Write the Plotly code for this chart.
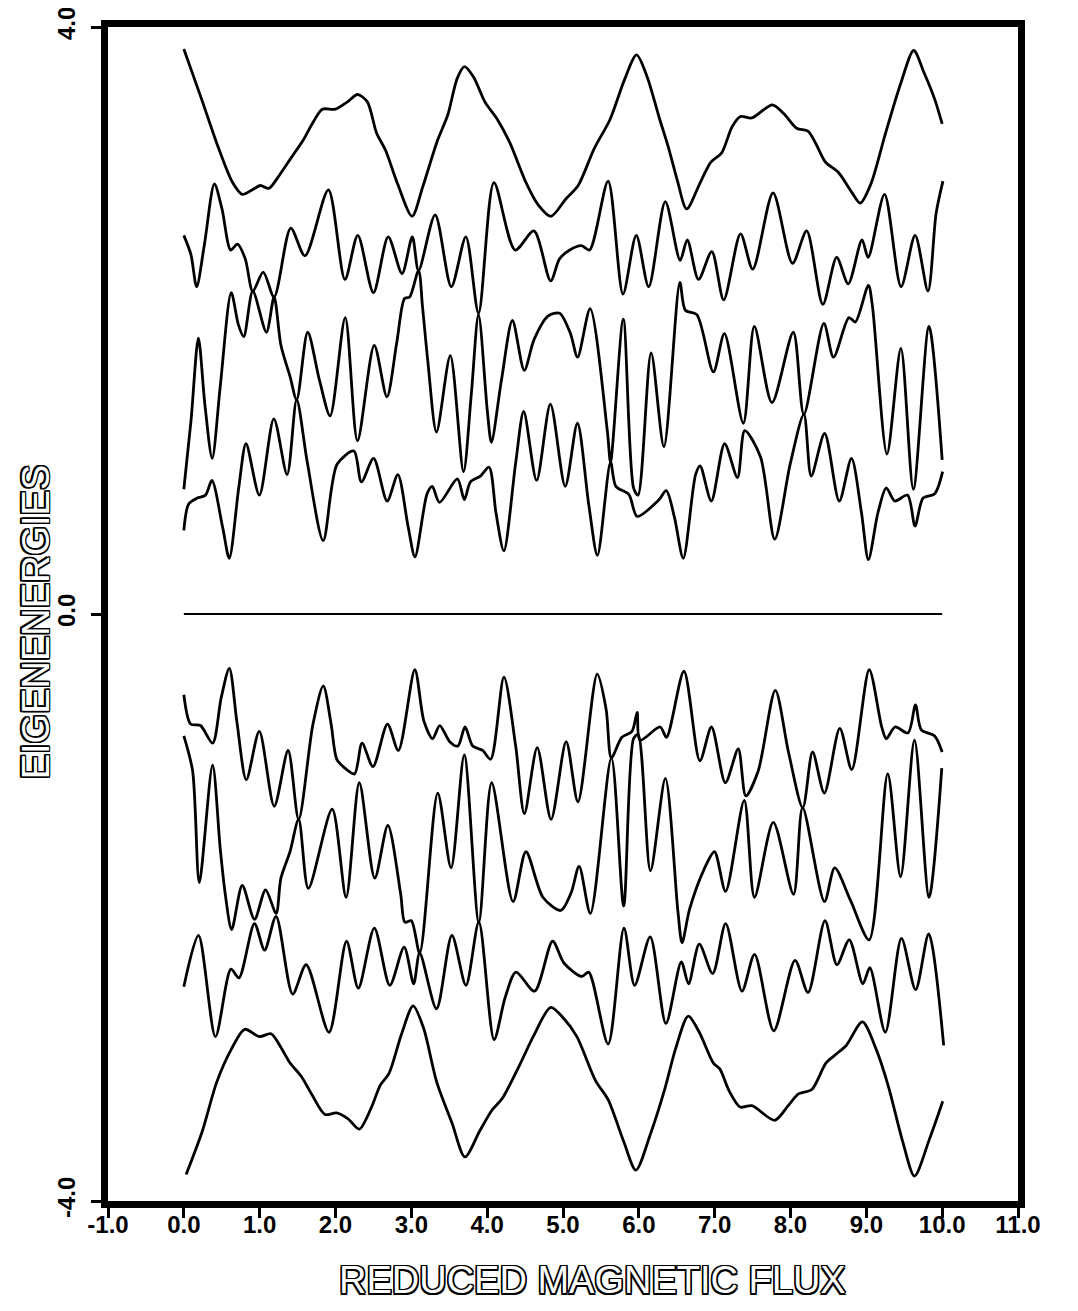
import plotly.graph_objects as go

# ---- axis ticks -------------------------------------------------------------
flux_ticks = list(range(-1, 12))
flux_tick_labels = [f"{v:.1f}" for v in flux_ticks]
energy_ticks = [-4.0, 0.0, 4.0]
energy_tick_labels = ["-4.0", "0.0", "4.0"]

# ---- eigenenergy bands: (reduced magnetic flux, eigenenergy) ---------------
band_p4 = [(0.0,3.85),(0.24,3.50),(0.44,3.20),(0.643,2.94),(0.77,2.86),(0.90,2.89),(1.01,2.92),(1.12,2.90),
           (1.26,2.99),(1.417,3.11),(1.575,3.23),(1.714,3.36),(1.827,3.44),(2.00,3.44),(2.158,3.49),(2.29,3.54),
           (2.42,3.49),(2.54,3.28),(2.66,3.16),(2.82,2.93),(3.01,2.71),(3.15,2.91),(3.34,3.22),(3.48,3.40),
           (3.605,3.65),(3.70,3.73),(3.82,3.66),(3.97,3.49),(4.135,3.37),(4.30,3.21),(4.503,2.95),(4.67,2.79),
           (4.84,2.71),(5.04,2.83),(5.2,2.92),(5.41,3.17),(5.62,3.37),(5.81,3.64),(5.97,3.81),(6.11,3.66),
           (6.27,3.38),(6.39,3.18),(6.51,2.95),(6.63,2.76),(6.81,2.94),(6.95,3.08),(7.09,3.14),(7.23,3.32),
           (7.34,3.39),(7.49,3.38),(7.76,3.47),(7.91,3.41),(8.08,3.31),(8.23,3.29),(8.33,3.21),(8.46,3.08),
           (8.63,3.01),(8.80,2.88),(8.92,2.80),(9.06,2.93),(9.25,3.27),(9.45,3.61),(9.625,3.84),(9.76,3.69),
           (9.90,3.51),(10.0,3.34)]

band_p3 = [(0.0,2.58),(0.093,2.45),(0.169,2.23),(0.272,2.52),(0.403,2.93),(0.503,2.76),(0.618,2.48),(0.708,2.52),
           (0.81,2.42),(0.909,2.20),(1.047,2.33),(1.19,2.16),(1.41,2.63),(1.597,2.44),(1.906,2.89),(2.124,2.28),
           (2.294,2.58),(2.5,2.19),(2.695,2.57),(2.877,2.32),(3.013,2.57),(3.095,2.34),(3.314,2.72),(3.527,2.23),
           (3.719,2.57),(3.886,2.05),(4.089,2.94),(4.369,2.48),(4.616,2.61),(4.837,2.27),(4.954,2.42),(5.089,2.48),
           (5.243,2.51),(5.35,2.48),(5.595,2.95),(5.791,2.18),(5.966,2.58),(6.13,2.23),(6.349,2.81),(6.545,2.41),
           (6.639,2.55),(6.787,2.28),(6.962,2.47),(7.119,2.14),(7.341,2.59),(7.502,2.35),(7.77,2.87),(8.026,2.39),
           (8.213,2.61),(8.426,2.11),(8.609,2.43),(8.761,2.25),(8.943,2.55),(9.024,2.43),(9.24,2.86),(9.458,2.23),
           (9.643,2.58),(9.813,2.20),(9.92,2.73),(10.01,2.95)]

band_p2 = [(0.0,0.85),(0.095,1.32),(0.192,1.88),(0.277,1.43),(0.374,1.06),(0.48,1.55),(0.625,2.19),(0.72,1.97),
           (0.79,1.89),(0.909,2.20),(1.089,1.92),(1.19,2.16),(1.281,1.83),(1.4,1.62),(1.488,1.46),(1.633,1.92),
           (1.79,1.59),(1.929,1.35),(2.128,2.02),(2.29,1.18),(2.511,1.83),(2.678,1.48),(2.808,1.85),(2.911,2.15),
           (2.978,2.16),(3.095,2.34),(3.148,2.09),(3.216,1.73),(3.332,1.24),(3.514,1.76),(3.688,0.97),(3.791,1.50),
           (3.886,2.04),(4.003,1.38),(4.056,1.17),(4.19,1.60),(4.333,2.00),(4.489,1.66),(4.618,1.87),(4.801,2.03),
           (4.956,2.05),(5.099,1.91),(5.192,1.75),(5.358,2.08),(5.586,1.24),(5.627,1.035),(5.795,2.01),(5.93,0.86),
           (5.99,0.81),(6.162,1.78),(6.331,1.14),(6.541,2.26),(6.613,2.07),(6.765,2.04),(6.983,1.65),(7.128,1.91),
           (7.378,1.30),(7.523,1.96),(7.755,1.44),(8.037,1.92),(8.176,1.36),(8.44,1.98),(8.567,1.75),(8.77,2.02),
           (8.855,1.99),(9.027,2.24),(9.08,2.10),(9.272,1.09),(9.456,1.81),(9.62,0.85),(9.826,1.96),(10.0,1.05)]

band_p1 = [(0.0,0.57),(0.064,0.75),(0.176,0.79),(0.286,0.81),(0.37,0.91),(0.512,0.59),(0.599,0.38),(0.724,0.86),
           (0.82,1.16),(0.996,0.81),(1.187,1.33),(1.362,0.95),(1.488,1.46),(1.629,1.03),(1.838,0.50),(2.021,1.02),
           (2.243,1.11),(2.341,0.90),(2.502,1.06),(2.681,0.77),(2.822,0.95),(2.956,0.60),(3.048,0.39),(3.208,0.82),
           (3.276,0.87),(3.371,0.76),(3.607,0.92),(3.699,0.78),(3.78,0.90),(3.912,0.94),(4.025,1.00),(4.116,0.69),
           (4.22,0.43),(4.376,1.03),(4.482,1.38),(4.652,0.91),(4.834,1.43),(5.029,0.87),(5.19,1.30),(5.341,0.74),
           (5.454,0.40),(5.627,1.035),(5.697,0.87),(5.868,0.815),(5.978,0.665),(6.259,0.775),(6.362,0.84),(6.469,0.66),
           (6.586,0.38),(6.748,0.95),(6.808,1.01),(6.956,0.77),(7.131,1.16),(7.301,0.93),(7.397,1.25),(7.605,1.07),
           (7.792,0.51),(7.995,1.02),(8.176,1.36),(8.273,0.94),(8.45,1.23),(8.643,0.77),(8.804,1.06),(8.936,0.69),
           (9.027,0.37),(9.153,0.69),(9.263,0.86),(9.376,0.77),(9.544,0.81),(9.642,0.60),(9.748,0.79),(9.902,0.82),
           (10.006,0.97)]

band_zero = [(0.0,0.0),(10.0,0.0)]

band_m1 = [(0.0,-0.55),(0.09,-0.75),(0.22,-0.76),(0.379,-0.88),(0.493,-0.57),(0.6,-0.37),(0.701,-0.74),(0.824,-1.13),
           (0.995,-0.80),(1.192,-1.31),(1.375,-0.93),(1.514,-1.40),(1.703,-0.75),(1.839,-0.49),(1.942,-0.75),(2.017,-0.99),
           (2.123,-1.05),(2.251,-1.09),(2.35,-0.88),(2.494,-1.04),(2.685,-0.75),(2.829,-0.93),(3.046,-0.38),(3.166,-0.73),
           (3.281,-0.85),(3.374,-0.76),(3.506,-0.87),(3.614,-0.90),(3.708,-0.77),(3.81,-0.90),(3.94,-0.93),(4.046,-0.99),
           (4.221,-0.43),(4.376,-0.90),(4.491,-1.36),(4.66,-0.91),(4.843,-1.40),(5.042,-0.87),(5.197,-1.28),(5.451,-0.41),
           (5.569,-0.65),(5.638,-0.98),(5.776,-0.84),(5.91,-0.80),(5.978,-0.67),(6.014,-0.86),(6.281,-0.77),(6.365,-0.84),
           (6.595,-0.39),(6.805,-1.00),(6.958,-0.77),(7.141,-1.15),(7.311,-0.92),(7.411,-1.24),(7.574,-1.07),(7.8,-0.52),
           (7.973,-0.94),(8.162,-1.32),(8.291,-0.94),(8.446,-1.22),(8.65,-0.78),(8.808,-1.06),(9.038,-0.38),(9.203,-0.77),
           (9.264,-0.85),(9.378,-0.77),(9.55,-0.81),(9.648,-0.62),(9.725,-0.79),(9.898,-0.83),(10.0,-0.94)]

band_m2 = [(0.0,-0.83),(0.116,-1.07),(0.204,-1.83),(0.379,-1.03),(0.48,-1.60),(0.549,-1.92),(0.631,-2.15),(0.77,-1.85),
           (0.932,-2.08),(1.078,-1.88),(1.217,-2.04),(1.28,-1.80),(1.40,-1.62),(1.514,-1.40),(1.642,-1.87),(1.956,-1.33),
           (2.14,-1.93),(2.314,-1.15),(2.518,-1.80),(2.69,-1.44),(2.86,-1.91),(2.915,-2.10),(3.0,-2.09),(3.11,-2.31),
           (3.348,-1.22),(3.524,-1.73),(3.698,-0.96),(3.89,-2.10),(4.059,-1.15),(4.341,-1.96),(4.511,-1.62),(4.735,-1.93),
           (4.97,-2.02),(5.107,-1.90),(5.213,-1.72),(5.361,-2.04),(5.638,-0.98),(5.8,-1.99),(5.93,-0.85),(5.99,-0.82),
           (6.153,-1.75),(6.35,-1.12),(6.516,-2.03),(6.57,-2.24),(6.67,-2.01),(6.86,-1.74),(6.997,-1.62),(7.144,-1.89),
           (7.39,-1.27),(7.525,-1.93),(7.773,-1.42),(8.04,-1.91),(8.16,-1.32),(8.448,-1.96),(8.583,-1.73),(8.79,-1.95),
           (9.037,-2.22),(9.282,-1.09),(9.452,-1.79),(9.635,-0.86),(9.827,-1.93),(9.995,-1.05)]

band_m3 = [(0.0,-2.54),(0.193,-2.19),(0.417,-2.88),(0.621,-2.42),(0.727,-2.48),(0.931,-2.11),(1.065,-2.29),(1.216,-2.06),
           (1.435,-2.59),(1.613,-2.39),(1.914,-2.85),(2.145,-2.23),(2.301,-2.55),(2.512,-2.14),(2.716,-2.53),(2.905,-2.27),
           (3.031,-2.52),(3.11,-2.31),(3.332,-2.69),(3.535,-2.19),(3.72,-2.53),(3.89,-2.10),(4.091,-2.90),(4.239,-2.61),
           (4.38,-2.44),(4.625,-2.57),(4.863,-2.23),(5.014,-2.38),(5.25,-2.47),(5.339,-2.44),(5.595,-2.93),(5.804,-2.14),
           (5.944,-2.53),(6.15,-2.20),(6.357,-2.79),(6.56,-2.37),(6.655,-2.52),(6.797,-2.25),(6.974,-2.45),(7.145,-2.11),
           (7.36,-2.57),(7.526,-2.32),(7.779,-2.84),(8.06,-2.36),(8.231,-2.58),(8.455,-2.09),(8.612,-2.39),(8.775,-2.22),
           (8.954,-2.52),(9.046,-2.41),(9.25,-2.85),(9.463,-2.21),(9.65,-2.56),(9.823,-2.18),(10.02,-2.94)]

band_m4 = [(0.03,-3.82),(0.24,-3.53),(0.434,-3.19),(0.622,-2.97),(0.804,-2.83),(0.996,-2.88),(1.15,-2.86),(1.277,-2.95),
           (1.401,-3.06),(1.548,-3.15),(1.694,-3.28),(1.861,-3.41),(2.014,-3.40),(2.166,-3.44),(2.314,-3.51),(2.475,-3.36),
           (2.591,-3.21),(2.706,-3.13),(2.872,-2.86),(3.024,-2.67),(3.16,-2.82),(3.335,-3.19),(3.537,-3.47),(3.707,-3.70),
           (3.905,-3.52),(4.065,-3.38),(4.201,-3.30),(4.431,-3.07),(4.617,-2.87),(4.838,-2.68),(5.016,-2.76),(5.183,-2.88),
           (5.429,-3.18),(5.595,-3.31),(5.797,-3.59),(5.961,-3.79),(6.149,-3.55),(6.341,-3.24),(6.486,-2.96),(6.652,-2.74),
           (6.797,-2.85),(6.983,-3.06),(7.068,-3.10),(7.191,-3.25),(7.337,-3.36),(7.49,-3.35),(7.791,-3.45),(7.97,-3.35),
           (8.105,-3.27),(8.281,-3.24),(8.467,-3.06),(8.6,-3.00),(8.735,-2.94),(8.948,-2.78),(9.125,-2.96),(9.286,-3.21),
           (9.482,-3.60),(9.635,-3.83),(9.831,-3.58),(10.008,-3.32)]

bands = [band_p4, band_p3, band_p2, band_p1, band_m1, band_m2, band_m3, band_m4]

# ---- figure -------------------------------------------------------------------
fig = go.Figure()
for pts in bands:
    fig.add_trace(go.Scatter(
        x=[p[0] for p in pts], y=[p[1] for p in pts], mode="lines",
        line=dict(color="black", width=2.8, shape="spline", smoothing=0.8),
        showlegend=False, hoverinfo="skip"))
fig.add_trace(go.Scatter(
    x=[p[0] for p in band_zero], y=[p[1] for p in band_zero], mode="lines",
    line=dict(color="black", width=2.2), showlegend=False, hoverinfo="skip"))

tick_font = dict(family="Liberation Sans, Arial, sans-serif", size=24, color="black", weight="bold")
d = 1.5
outline = ", ".join(f"{dx}px {dy}px 0 #000" for dx, dy in
                    [(d, 0), (-d, 0), (0, d), (0, -d), (d, d), (-d, -d), (d, -d), (-d, d)])
title_font = dict(family="Liberation Sans, Arial, sans-serif", size=38, color="white", shadow=outline)

# page body adds an 8 px offset; figure sized so everything lands inside the window
fig.update_layout(
    width=1062, height=1295,
    margin=dict(l=100, r=52, t=19, b=102),
    paper_bgcolor="white", plot_bgcolor="white",
    showlegend=False,
)
fig.update_xaxes(
    range=[-1, 11], tickvals=flux_ticks, ticktext=flux_tick_labels,
    ticks="outside", ticklen=10, tickwidth=2.5, tickcolor="black",
    ticklabelstandoff=-14, ticklabeloverflow="allow",
    showline=True, linewidth=7, linecolor="black", mirror=True,
    showgrid=False, zeroline=False, tickfont=tick_font, automargin=False,
)
fig.update_yaxes(
    range=[-4, 4], tickvals=energy_ticks, ticktext=energy_tick_labels, tickangle=-90,
    ticks="outside", ticklen=10, tickwidth=2.5, tickcolor="black",
    ticklabelstandoff=6, ticklabeloverflow="allow",
    showline=True, linewidth=7, linecolor="black", mirror=True,
    showgrid=False, zeroline=False, tickfont=tick_font, automargin=False,
)
fig.add_annotation(text="REDUCED MAGNETIC FLUX", xref="paper", yref="paper",
                   x=0.532, y=-0.067, xanchor="center", yanchor="middle",
                   showarrow=False, font=title_font)
fig.add_annotation(text="EIGENENERGIES", xref="paper", yref="paper",
                   x=-0.079, y=0.493, xanchor="center", yanchor="middle", textangle=-90,
                   showarrow=False, font=title_font)

fig.write_html("out.html")
